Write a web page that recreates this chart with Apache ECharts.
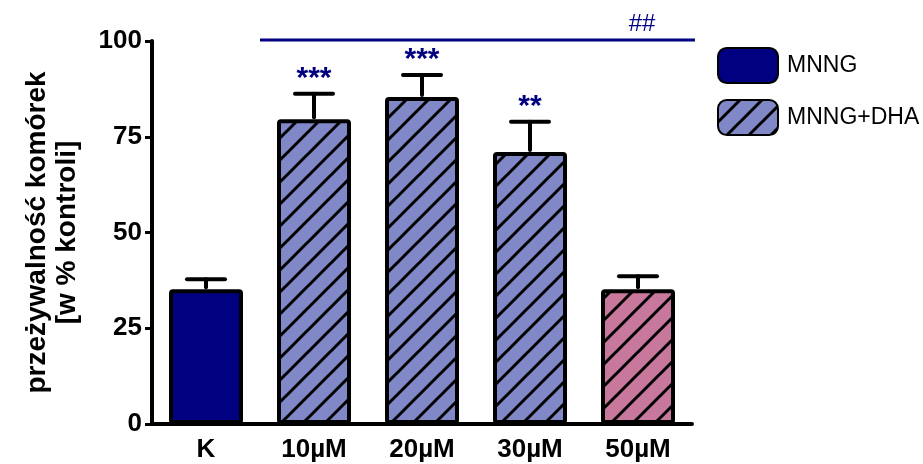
<!DOCTYPE html>
<html>
<head>
<meta charset="utf-8">
<script src="https://cdn.jsdelivr.net/npm/echarts@6/dist/echarts.min.js"></script>
<style>
  html, body { margin: 0; padding: 0; background: #fff; }
  #chart { width: 923px; height: 464px; }
</style>
</head>
<body>
<div id="chart"></div>
<script>
// data
const categories = ['K', '10µM', '20µM', '30µM', '50µM'];
const mnng = [35.2, '-', '-', '-', '-'];
const mnngDha = ['-', 79.6, 85.4, 71.0, 35.2];
const errTop = [37.8, 86.2, 91.1, 78.9, 38.6];
const stars = ['', '***', '***', '**', ''];
const yTicks = [0, 25, 50, 75, 100];

const NAVY = '#000080';
const FONT = '"Liberation Sans", Arial, sans-serif';

// diagonal hatch fill
function hatch(base) {
    const s = 22;
    const c = document.createElement('canvas');
    c.width = s; c.height = s;
    const g = c.getContext('2d');
    g.fillStyle = base;
    g.fillRect(0, 0, s, s);
    g.strokeStyle = '#000';
    g.lineWidth = 3;
    g.beginPath();
    g.moveTo(-2, s + 2); g.lineTo(s + 2, -2);
    g.moveTo(-s / 2, s / 2); g.lineTo(s / 2, -s / 2);
    g.moveTo(s / 2, s * 1.5); g.lineTo(s * 1.5, s / 2);
    g.stroke();
    return { image: c, repeat: 'repeat' };
}
const blueHatch = hatch('#8088c8');
const pinkHatch = hatch('#c8789c');

const chart = echarts.init(document.getElementById('chart'));

const option = {
    animation: false,
    grid: { left: 152, right: 231, top: 41, bottom: 40 },
    legend: {
        left: 717, top: 47, orient: 'vertical', padding: 0,
        itemWidth: 60, itemHeight: 35, itemGap: 15,
        textStyle: { fontFamily: FONT, fontSize: 23, color: '#000', padding: [10, 0, 0, 4] },
        data: ['MNNG', 'MNNG+DHA']
    },
    xAxis: {
        type: 'category',
        data: categories,
        axisLine: { lineStyle: { color: '#000', width: 4 } },
        axisTick: { alignWithLabel: true, length: 7, lineStyle: { color: '#000', width: 3 } },
        axisLabel: { color: '#000', fontFamily: FONT, fontWeight: 'bold', fontSize: 26, margin: 13 }
    },
    yAxis: {
        type: 'value', min: 0, max: 100, interval: 25,
        name: 'przeżywalność komórek\n[w % kontroli]',
        nameLocation: 'middle', nameGap: 70,
        nameTextStyle: { color: '#000', fontFamily: FONT, fontWeight: 'bold', fontSize: 28, lineHeight: 30 },
        axisLine: { show: true, lineStyle: { color: '#000', width: 4 } },
        axisTick: { show: true, length: 7, lineStyle: { color: '#000', width: 3 } },
        axisLabel: {
            color: '#000', fontFamily: FONT, fontWeight: 'bold', fontSize: 26, margin: 10,
            formatter: v => yTicks.includes(v) ? String(v) : ''
        },
        splitLine: { show: false }
    },
    series: [
        {
            name: 'MNNG', type: 'bar', data: mnng, barWidth: 74, barGap: '-100%',
            itemStyle: { color: NAVY, borderColor: '#000', borderWidth: 4, borderRadius: 2 }
        },
        {
            name: 'MNNG+DHA', type: 'bar', barWidth: 74,
            data: mnngDha.map((v, i) => i === 4 ? { value: v, itemStyle: { color: pinkHatch } } : v),
            itemStyle: { color: blueHatch, borderColor: '#000', borderWidth: 4, borderRadius: 2 }
        },
        {
            // error bars + significance stars
            type: 'custom', z: 5, clip: false,
            data: categories.map((c, i) => [i, Math.max(mnng[i] === '-' ? 0 : mnng[i], mnngDha[i] === '-' ? 0 : mnngDha[i]), errTop[i]]),
            renderItem: (params, api) => {
                const bot = api.coord([api.value(0), api.value(1)]);
                const top = api.coord([api.value(0), api.value(2)]);
                const half = 19;
                const st = { stroke: '#000', lineWidth: 4, lineCap: 'round' };
                return {
                    type: 'group',
                    children: [
                        { type: 'line', shape: { x1: bot[0], y1: bot[1] - 2, x2: top[0], y2: top[1] }, style: st },
                        { type: 'line', shape: { x1: top[0] - half, y1: top[1], x2: top[0] + half, y2: top[1] }, style: st },
                        {
                            type: 'text',
                            style: {
                                text: stars[params.dataIndex], x: top[0], y: top[1],
                                align: 'center', verticalAlign: 'bottom',
                                fill: NAVY, font: 'bold 30px ' + FONT
                            }
                        }
                    ]
                };
            }
        },
        {
            // bracket line over DHA groups
            type: 'custom', z: 5, clip: false,
            data: [[1, 4, 100]],
            renderItem: (params, api) => {
                const a = api.coord([0, api.value(2)]);
                const b = api.coord([1, api.value(2)]);
                const e = api.coord([api.value(1), api.value(2)]);
                const step = b[0] - a[0];
                const x0 = a[0] + step / 2;
                const x1 = e[0] + step / 2 + 3;
                const y = a[1] - 1;
                return {
                    type: 'group',
                    children: [
                        { type: 'line', shape: { x1: x0, y1: y, x2: x1, y2: y }, style: { stroke: NAVY, lineWidth: 3 } },
                        {
                            type: 'text',
                            style: {
                                text: '##', x: e[0] + 4, y: y - 4,
                                align: 'center', verticalAlign: 'bottom',
                                fill: NAVY, font: '24px ' + FONT
                            }
                        }
                    ]
                };
            }
        }
    ]
};

chart.setOption(option);
window.addEventListener('resize', () => chart.resize());
</script>
</body>
</html>
